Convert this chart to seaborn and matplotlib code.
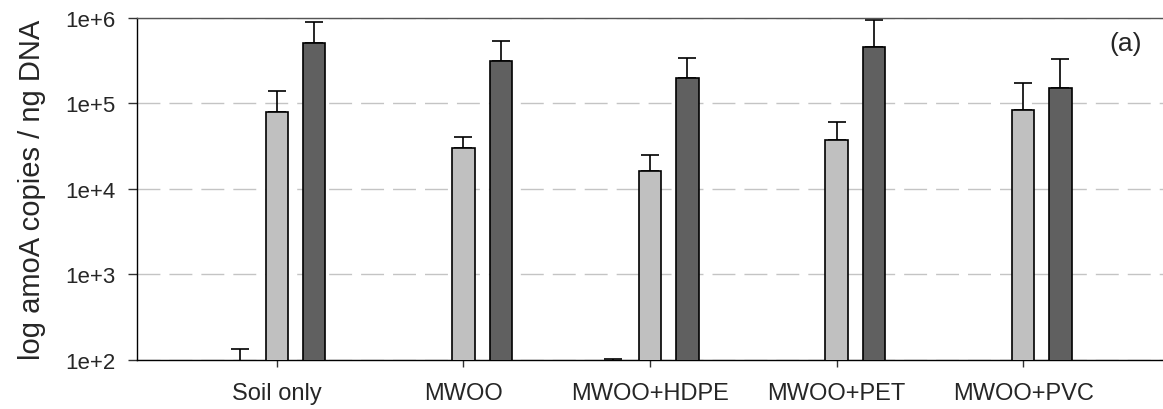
import numpy as np
import pandas as pd
import matplotlib
matplotlib.use("Agg")
import matplotlib.pyplot as plt
import matplotlib.ticker as mticker
import seaborn as sns

# values (amoA copies / ng DNA), upper error bar end
categories = ["Soil only", "MWOO", "MWOO+HDPE", "MWOO+PET", "MWOO+PVC"]
series = ["s1", "s2", "s3"]
s1_vals = [55, np.nan, 60, np.nan, np.nan]
s1_upper = [135, np.nan, 104, np.nan, np.nan]
s2_vals = [8.0e4, 3.04e4, 1.64e4, 3.71e4, 8.47e4]
s2_upper = [1.40e5, 4.05e4, 2.48e4, 6.03e4, 1.74e5]
s3_vals = [5.1e5, 3.17e5, 1.99e5, 4.54e5, 1.53e5]
s3_upper = [8.9e5, 5.33e5, 3.37e5, 9.55e5, 3.29e5]
colors = ["#ffffff", "#c0c0c0", "#606060"]
ytick_vals = [1e2, 1e3, 1e4, 1e5, 1e6]

df = pd.DataFrame({
    "cat": categories * 3,
    "series": [s for s in series for _ in categories],
    "value": s1_vals + s2_vals + s3_vals,
    "upper": s1_upper + s2_upper + s3_upper,
})

sns.set_theme(style="ticks")
plt.rcParams["font.family"] = ["Liberation Sans", "DejaVu Sans"]

fig = plt.figure(figsize=(11.63, 4.10), dpi=100)
ax = fig.add_axes([0.1178, 0.1195, 0.8822, 0.8342])
ax.set_yscale("log")

sns.barplot(data=df, x="cat", y="value", hue="series", order=categories,
            hue_order=series, palette=colors, width=0.6, gap=0.4,
            errorbar=None, edgecolor="black", linewidth=1.2, legend=False,
            saturation=1, ax=ax, zorder=3)

# upper-only error bars, placed on the drawn bars
for level, cont in zip(series, ax.containers):
    sub = df[df["series"] == level].dropna()
    for bar, (_, row) in zip(cont, sub.iterrows()):
        xc = bar.get_x() + bar.get_width() / 2
        ax.errorbar([xc], [row["value"]],
                    yerr=[[0], [row["upper"] - row["value"]]],
                    fmt="none", ecolor="black", elinewidth=1.2,
                    capsize=6.8, capthick=1.2, zorder=2)

ax.set_ylim(1e2, 1e6)
ax.set_xlim(-0.75, 4.75)
ax.yaxis.set_major_locator(mticker.FixedLocator(ytick_vals))
ax.yaxis.set_minor_locator(mticker.NullLocator())
ax.yaxis.set_major_formatter(
    mticker.FuncFormatter(lambda v, p: f"1e+{int(round(np.log10(v)))}"))

ax.yaxis.grid(True, color="#c4c4c4", linewidth=1.0, dashes=(16.5, 6.5))
ax.set_axisbelow(True)

for s in ["left", "bottom"]:
    ax.spines[s].set_color("black")
    ax.spines[s].set_linewidth(1.0)
ax.spines["top"].set_color("#555555")
ax.spines["top"].set_linewidth(1.0)
ax.spines["right"].set_visible(False)

ax.tick_params(axis="y", length=6.5, width=1, color="#333333", pad=9,
               labelsize=16)
ax.tick_params(axis="x", length=5, width=1, color="#333333", pad=11,
               labelsize=17)

ax.set_xlabel("")
ax.set_ylabel("log amoA copies / ng DNA", fontsize=21, labelpad=14)

ax.text(0.964, 0.927, "(a)", transform=ax.transAxes, fontsize=19,
        ha="center", va="center")

fig.savefig("out.png", dpi=100)
